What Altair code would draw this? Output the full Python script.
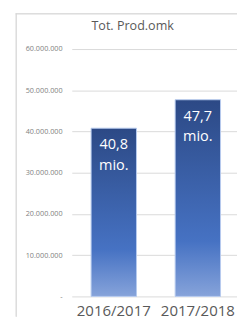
import altair as alt
import pandas as pd

years = ["2016/2017", "2017/2018"]
values = [40800000, 47700000]
labels = ["40,8\nmio.", "47,7\nmio."]
y_ticks = [0, 10000000, 20000000, 30000000, 40000000, 50000000, 60000000]

df = pd.DataFrame({"year": years, "value": values, "label": labels})

FONT = "Open Sans"

x_enc = alt.X(
    "year:N",
    sort=years,
    scale=alt.Scale(paddingInner=0.46, paddingOuter=0.213, align=0.54),
    axis=alt.Axis(
        title=None, labelAngle=0, labelFontSize=15.5, labelColor="#595959",
        labelFont=FONT, domain=False, ticks=False, labelPadding=20,
        labelBaseline="alphabetic",
    ),
)
y_enc = alt.Y(
    "value:Q",
    scale=alt.Scale(domain=[0, 60000000], nice=False),
    axis=alt.Axis(
        title=None, values=y_ticks,
        labelExpr="datum.value == 0 ? '-' : replace(format(datum.value, ','), regexp(',', 'g'), '.')",
        labelFontSize=7.5, labelColor="#7f7f7f", labelFont=FONT,
        domain=False, ticks=False, labelPadding=10,
        gridColor="#d9d9d9", gridWidth=1,
    ),
)

base = alt.Chart(df)

bars = base.mark_bar(
    color=alt.Gradient(
        gradient="linear", x1=0, x2=0, y1=0, y2=1,
        stops=[
            alt.GradientStop(offset=0, color="#2c4985"),
            alt.GradientStop(offset=0.72, color="#4672c3"),
            alt.GradientStop(offset=1, color="#86a3da"),
        ],
    ),
    stroke="#b7cbee",
    strokeWidth=1,
).encode(x=x_enc, y=y_enc)

text = base.mark_text(
    align="center", baseline="alphabetic", dy=22, lineBreak="\n",
    lineHeight=21, fontSize=15, color="white", font=FONT,
).encode(x=alt.X("year:N", sort=years), y="value:Q", text="label:N")

vborder = base.mark_rule(color="#d9d9d9", strokeWidth=1).encode(
    x=alt.value(-57.5), y=alt.value(-37), y2=alt.value(277)
)
hborder = base.mark_rule(color="#d9d9d9", strokeWidth=1).encode(
    x=alt.value(-58), x2=alt.value(171), y=alt.value(-36.5)
)

chart = alt.layer(vborder, hborder, bars, text).properties(
    width=171,
    height=256,
    autosize=alt.AutoSizeParams(type="none"),
    padding={"left": 66, "top": 37, "right": 0, "bottom": 21},
    title=alt.TitleParams(
        "Tot. Prod.omk", fontSize=13, color="#595959", font=FONT,
        fontWeight="normal", anchor="middle", frame="group",
        baseline="alphabetic", offset=-31, dx=-22.5,
    ),
).configure_view(stroke=None)

chart.save("out.html", embed_options={"renderer": "svg", "actions": False})
